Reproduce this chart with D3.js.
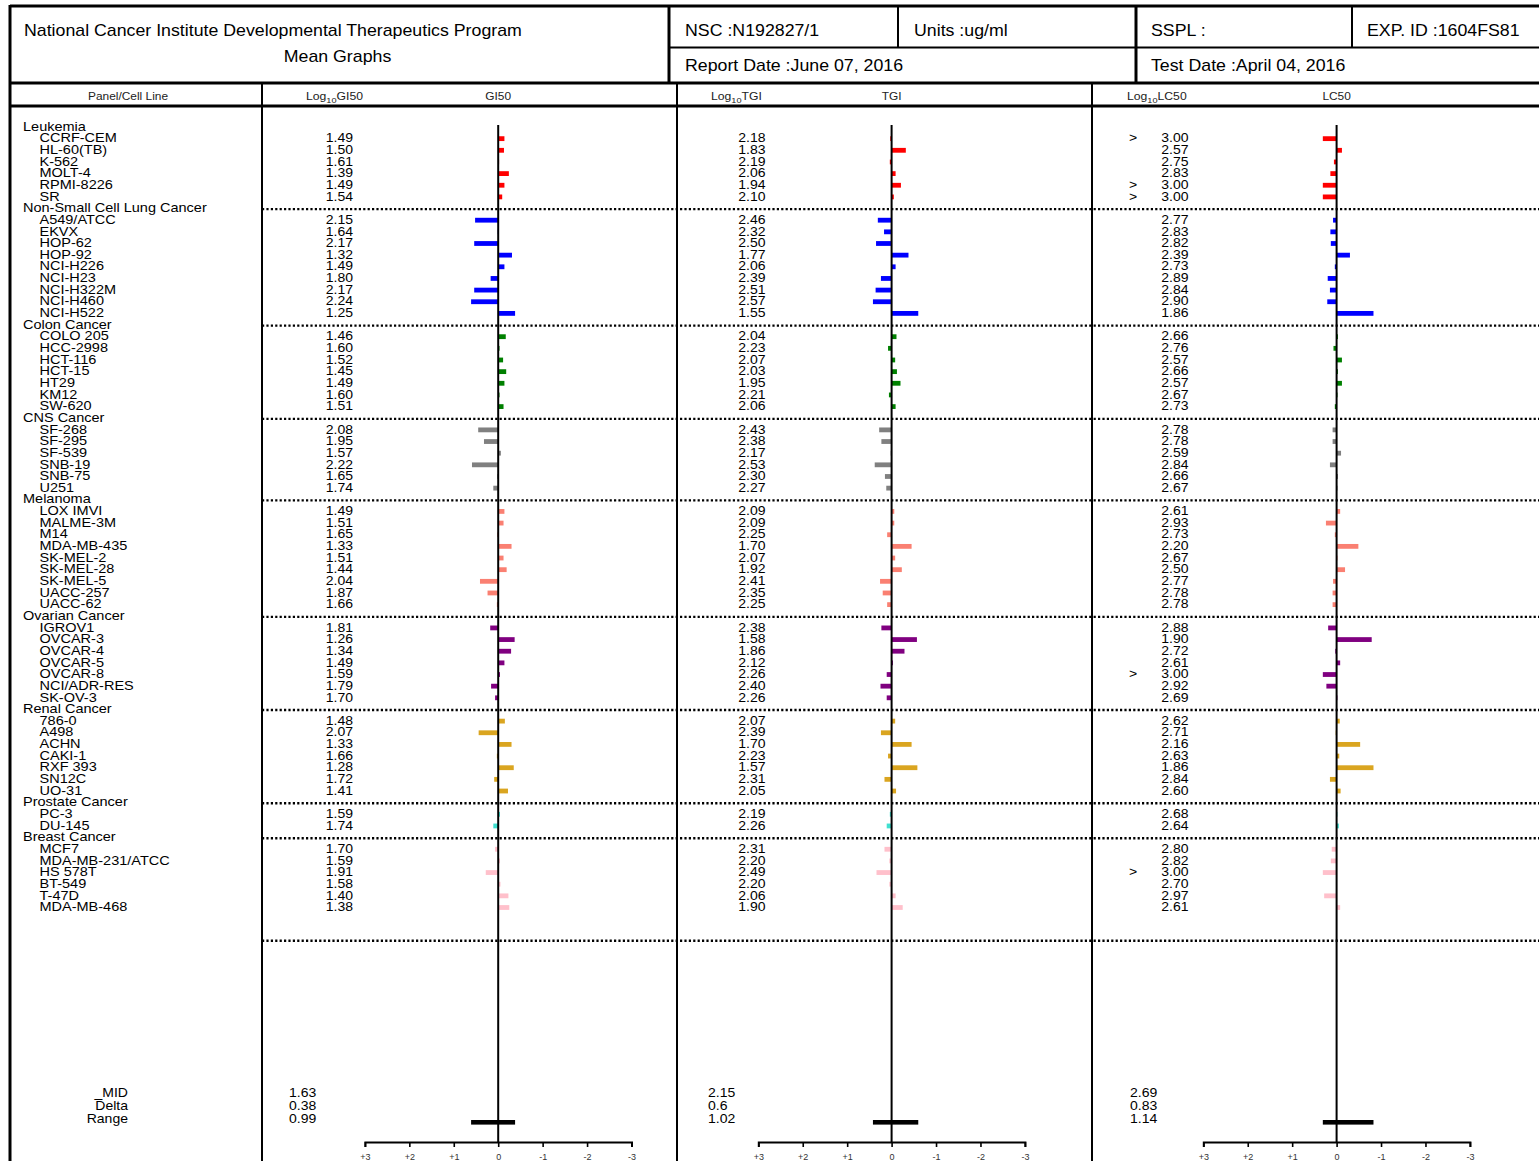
<!DOCTYPE html>
<html><head><meta charset="utf-8">
<script src="https://cdn.jsdelivr.net/npm/d3@7"></script>
<style>
html,body{margin:0;padding:0;background:#fff;}
svg{display:block;font-family:"Liberation Sans",Arial,sans-serif;}
</style></head><body>
<svg id="c" width="1539" height="1166"></svg>
<script>
// ---------------- DATA ----------------
const panels = ["Leukemia","Non-Small Cell Lung Cancer","Colon Cancer","CNS Cancer","Melanoma","Ovarian Cancer","Renal Cancer","Prostate Cancer","Breast Cancer"];
const panelColors = ["#ff0000","#0000ff","#008000","#808080","#fa8072","#800080","#daa520","#40e0d0","#ffc0cb"];
const cellLines = [
  ["CCRF-CEM","HL-60(TB)","K-562","MOLT-4","RPMI-8226","SR"],
  ["A549/ATCC","EKVX","HOP-62","HOP-92","NCI-H226","NCI-H23","NCI-H322M","NCI-H460","NCI-H522"],
  ["COLO 205","HCC-2998","HCT-116","HCT-15","HT29","KM12","SW-620"],
  ["SF-268","SF-295","SF-539","SNB-19","SNB-75","U251"],
  ["LOX IMVI","MALME-3M","M14","MDA-MB-435","SK-MEL-2","SK-MEL-28","SK-MEL-5","UACC-257","UACC-62"],
  ["IGROV1","OVCAR-3","OVCAR-4","OVCAR-5","OVCAR-8","NCI/ADR-RES","SK-OV-3"],
  ["786-0","A498","ACHN","CAKI-1","RXF 393","SN12C","UO-31"],
  ["PC-3","DU-145"],
  ["MCF7","MDA-MB-231/ATCC","HS 578T","BT-549","T-47D","MDA-MB-468"]
];
const gi50 = [
  [1.49,1.50,1.61,1.39,1.49,1.54],
  [2.15,1.64,2.17,1.32,1.49,1.80,2.17,2.24,1.25],
  [1.46,1.60,1.52,1.45,1.49,1.60,1.51],
  [2.08,1.95,1.57,2.22,1.65,1.74],
  [1.49,1.51,1.65,1.33,1.51,1.44,2.04,1.87,1.66],
  [1.81,1.26,1.34,1.49,1.59,1.79,1.70],
  [1.48,2.07,1.33,1.66,1.28,1.72,1.41],
  [1.59,1.74],
  [1.70,1.59,1.91,1.58,1.40,1.38]
];
const tgi = [
  [2.18,1.83,2.19,2.06,1.94,2.10],
  [2.46,2.32,2.50,1.77,2.06,2.39,2.51,2.57,1.55],
  [2.04,2.23,2.07,2.03,1.95,2.21,2.06],
  [2.43,2.38,2.17,2.53,2.30,2.27],
  [2.09,2.09,2.25,1.70,2.07,1.92,2.41,2.35,2.25],
  [2.38,1.58,1.86,2.12,2.26,2.40,2.26],
  [2.07,2.39,1.70,2.23,1.57,2.31,2.05],
  [2.19,2.26],
  [2.31,2.20,2.49,2.20,2.06,1.90]
];
const lc50 = [
  [3.00,2.57,2.75,2.83,3.00,3.00],
  [2.77,2.83,2.82,2.39,2.73,2.89,2.84,2.90,1.86],
  [2.66,2.76,2.57,2.66,2.57,2.67,2.73],
  [2.78,2.78,2.59,2.84,2.66,2.67],
  [2.61,2.93,2.73,2.20,2.67,2.50,2.77,2.78,2.78],
  [2.88,1.90,2.72,2.61,3.00,2.92,2.69],
  [2.62,2.71,2.16,2.63,1.86,2.84,2.60],
  [2.68,2.64],
  [2.80,2.82,3.00,2.70,2.97,2.61]
];
const lc50Qualifier = [
  [">","","","",">",">"],
  ["","","","","","","","",""],
  ["","","","","","",""],
  ["","","","","",""],
  ["","","","","","","","",""],
  ["","","","",">","",""],
  ["","","","","","",""],
  ["",""],
  ["","",">","","",""]
];
const measures = ["GI50","TGI","LC50"];
const midValues = [1.63, 2.15, 2.69];
const deltaLabels = ["0.38","0.6","0.83"];
const rangeLabels = ["0.99","1.02","1.14"];
const summaryNames = ["_MID","Delta","Range"];
const axisTicks = [3,2,1,0,-1,-2,-3];
const headerTitle = "National Cancer Institute Developmental Therapeutics Program";
const headerSubtitle = "Mean Graphs";
const nscText = "NSC :N192827/1";
const unitsText = "Units :ug/ml";
const ssplText = "SSPL :";
const expText = "EXP. ID :1604FS81";
const reportDateText = "Report Date :June 07, 2016";
const testDateText = "Test Date :April 04, 2016";

// ---------------- LAYOUT ----------------
const svg = d3.select("#c");
const W = 1539;
const SX = 1.2; // horizontal stretch of the original typeface

function txt(g, x, y, s, size, anchor, sx, fill){
  return g.append("text")
    .attr("transform", `translate(${x},${y}) scale(${sx||SX},1)`)
    .attr("text-anchor", anchor || "start")
    .style("font-size", size + "px")
    .attr("fill", fill || "#000")
    .text(s);
}

// rows
const rows = [];
let idx = 0;
panels.forEach((p, pi) => {
  rows.push({type:"panel", name:p, i:idx++, pi});
  cellLines[pi].forEach((c, ci) => {
    rows.push({type:"cell", name:c, i:idx++, pi, ci,
      vals:[gi50[pi][ci], tgi[pi][ci], lc50[pi][ci]], q:lc50Qualifier[pi][ci]});
  });
});
const lastIdx = idx - 1;
const yRow = d3.scaleLinear().domain([0, lastIdx]).range([126.3, 906.8]);

// columns
const zeroX = [498.2, 891.6, 1336.6];
const halfSpan = 133.3;
const valueRight = [353, 765.5, 1188.5];
const summaryX = [289, 708, 1130];
const colHeadLog = [306, 711, 1127];
const xScales = zeroX.map(z => d3.scaleLinear().domain([3,-3]).range([z-halfSpan, z+halfSpan]));

// ---------------- FRAME ----------------
const lines = svg.append("g").attr("stroke","#000");
function ln(x1,y1,x2,y2,w){ lines.append("line").attr("x1",x1).attr("y1",y1).attr("x2",x2).attr("y2",y2).attr("stroke-width",w); }
ln(10, 6, W, 6, 3);
ln(10, 5, 10, 1161, 3);
ln(669, 47.5, W, 47.5, 2);
ln(10, 83, W, 83, 3);
ln(10, 106, W, 106, 3);
ln(669, 6, 669, 83, 3);
ln(898, 6, 898, 47.5, 2);
ln(1136, 6, 1136, 83, 3);
ln(1352, 6, 1352, 47.5, 2);
[262, 677, 1092].forEach(x => ln(x, 83, x, 1161, 2));

// header text
const hg = svg.append("g");
const HS = 16, HSX = 1.11;
txt(hg, 24, 36, headerTitle, HS, "start", HSX);
txt(hg, 337.5, 61.5, headerSubtitle, HS, "middle", HSX);
txt(hg, 685, 36, nscText, HS, "start", HSX);
txt(hg, 914, 36, unitsText, HS, "start", HSX);
txt(hg, 1151, 36, ssplText, HS, "start", HSX);
txt(hg, 1367, 36, expText, HS, "start", HSX);
txt(hg, 685, 70.5, reportDateText, HS, "start", HSX);
txt(hg, 1151, 70.5, testDateText, HS, "start", HSX);

// column headers
const ch = svg.append("g");
txt(ch, 128, 99.5, "Panel/Cell Line", 10, "middle", 1.19, "#222");
measures.forEach((m, k) => {
  const t = ch.append("text")
    .attr("transform", `translate(${colHeadLog[k]},99.5) scale(1.22,1)`)
    .style("font-size","10px").attr("fill","#222");
  t.append("tspan").text("Log");
  t.append("tspan").attr("dy", 3).style("font-size","7.5px").text("10");
  t.append("tspan").attr("dy", -3).text(m);
  txt(ch, zeroX[k], 99.5, m, 10, "middle", 1.19, "#222");
});

// ---------------- BODY ----------------
const body = svg.append("g");
const FS = 12.3;
rows.forEach(r => {
  const y = yRow(r.i) + 4.4;
  if (r.type === "panel") {
    txt(body, 23, y, r.name, FS, "start", 1.18);
  } else {
    txt(body, 39.5, y, r.name, FS, "start", 1.18);
    r.vals.forEach((v, k) => {
      txt(body, valueRight[k], y, v.toFixed(2), FS, "end", 1.14);
    });
    if (r.q) txt(body, 1133, y, r.q, FS, "middle", 1.14);
  }
});

// dotted separators
const sepY = rows.filter(r => r.type === "panel" && r.i > 0).map(r => yRow(r.i) + 1.3);
sepY.push(yRow(lastIdx) + 34);
body.selectAll("line.sep").data(sepY).enter().append("line")
  .attr("x1", 262).attr("x2", W).attr("y1", d => d).attr("y2", d => d)
  .attr("stroke","#000").attr("stroke-width",2.4).attr("stroke-dasharray","2.2,2.2");

// bars
const cells = rows.filter(r => r.type === "cell");
measures.forEach((m, k) => {
  const x = xScales[k];
  const mid = midValues[k];
  const g = svg.append("g");
  g.selectAll("rect").data(cells).enter().append("rect")
    .attr("x", d => Math.min(x(0), x(d.vals[k] - mid)))
    .attr("width", d => Math.max(0.8, Math.abs(x(d.vals[k] - mid) - x(0))))
    .attr("y", d => yRow(d.i) - 1.7)
    .attr("height", 4.8)
    .attr("fill", d => panelColors[d.pi]);

  // zero line
  g.append("line").attr("x1", x(0)).attr("x2", x(0)).attr("y1", 125).attr("y2", 1142)
    .attr("stroke","#000").attr("stroke-width",2);

  // range bar
  const all = cells.map(d => d.vals[k]);
  const vmax = d3.max(all), vmin = d3.min(all);
  g.append("rect").attr("x", x(vmax - mid)).attr("width", x(vmin - mid) - x(vmax - mid))
    .attr("y", 1120).attr("height", 4.6).attr("fill","#000");

  // axis
  const ax = g.append("g").attr("transform","translate(0,1142)")
    .call(d3.axisBottom(x).tickValues(axisTicks).tickSize(5).tickSizeOuter(5).tickPadding(7)
      .tickFormat(d => d > 0 ? "+" + d : String(d)));
  ax.select(".domain").attr("stroke-width",2);
  ax.selectAll(".tick line").attr("stroke-width",1.6);
  ax.selectAll(".tick text").style("font-size","9px").attr("fill","#333")
    .style("font-family","'Liberation Sans',Arial,sans-serif");

  // summary values
  const sv = [mid.toFixed(2), deltaLabels[k], rangeLabels[k]];
  sv.forEach((s, j) => txt(g, summaryX[k], 1097 + j*12.8, s, FS, "start", 1.14));
});

summaryNames.forEach((s, j) => txt(body, 128, 1097 + j*12.8, s, FS, "end", 1.14));
</script>
</body></html>
